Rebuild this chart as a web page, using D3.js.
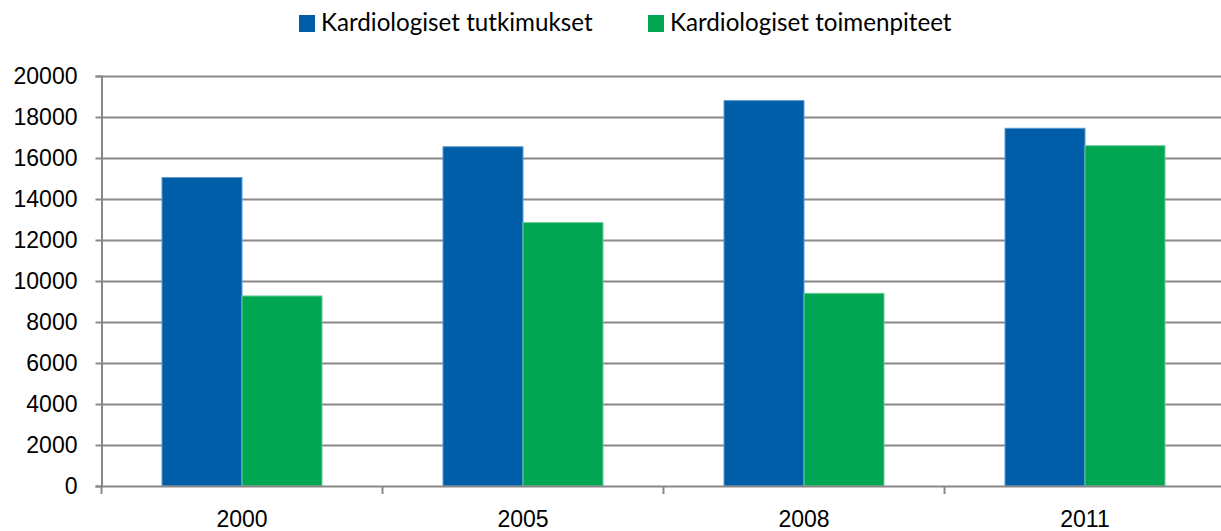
<!DOCTYPE html>
<html>
<head>
<meta charset="utf-8">
<script src="https://cdn.jsdelivr.net/npm/d3@7"></script>
<style>
  html, body { margin: 0; padding: 0; background: #fff; }
  svg { display: block; font-family: Lato, "Open Sans", sans-serif; }
</style>
</head>
<body>
<svg id="chart" width="1221" height="531"></svg>
<script>
// Chart data
const years = ["2000", "2005", "2008", "2011"]
const seriesNames = ["Kardiologiset tutkimukset", "Kardiologiset toimenpiteet"]
const tutkimukset = [15050, 16550, 18800, 17450]
const toimenpiteet = [9270, 12850, 9400, 16600]
const yTicks = [0, 2000, 4000, 6000, 8000, 10000, 12000, 14000, 16000, 18000, 20000]
const colors = ["#005EA8", "#00A651"]
const strokes = ["#5E9AD0", "#6CCB98"]

const svg = d3.select("#chart")
const plotLeft = 101.5, plotRight = 1225.5, plotTop = 76, plotBottom = 486

const x = d3.scaleBand().domain(years).range([plotLeft, plotRight])
const gap = 60.5
const x1 = d3.scaleBand().domain([0, 1]).range([gap, x.bandwidth() - gap])
const y = d3.scaleLinear().domain([0, 20000]).range([plotBottom, plotTop])

// gridlines
svg.append("g")
  .selectAll("line")
  .data(yTicks.slice(1))
  .join("line")
  .attr("x1", plotLeft).attr("x2", 1221)
  .attr("y1", (d) => Math.round(y(d)) + 0.5).attr("y2", (d) => Math.round(y(d)) + 0.5)
  .attr("stroke", "#888").attr("stroke-width", 2)

// bars
const table = years.map((yr, i) => ({ yr, vals: [tutkimukset[i], toimenpiteet[i]] }))
const groups = svg.append("g").selectAll("g").data(table).join("g")
  .attr("transform", (d) => `translate(${x(d.yr)},0)`)
groups.selectAll("rect")
  .data((d) => d.vals.map((v, s) => ({ v, s })))
  .join("rect")
  .attr("x", (d) => x1(d.s))
  .attr("width", x1.bandwidth())
  .attr("y", (d) => y(d.v))
  .attr("height", (d) => plotBottom - y(d.v))
  .attr("fill", (d) => colors[d.s])
  .attr("stroke", (d) => strokes[d.s])
  .attr("stroke-width", 1)

// y axis
const yAxis = svg.append("g")
  .attr("transform", `translate(${plotLeft},0)`)
  .call(d3.axisLeft(y).tickValues(yTicks).tickSize(6).tickPadding(18).tickFormat(d3.format("d")))
yAxis.select(".domain").attr("stroke", "#888").attr("stroke-width", 2)
yAxis.selectAll(".tick line").attr("stroke", "#888").attr("stroke-width", 2)
yAxis.selectAll("text").attr("fill", "#000").style("font-size", "23px")

// x axis
const xAxis = svg.append("g")
  .attr("transform", `translate(0,${plotBottom})`)
  .call(d3.axisBottom(x).tickSize(0).tickPadding(25))
xAxis.select(".domain").attr("stroke", "#888").attr("stroke-width", 2)
xAxis.selectAll("text").attr("fill", "#000").style("font-size", "23px")
xAxis.selectAll(".sep")
  .data(years.concat(["end"]))
  .join("line")
  .attr("x1", (d, i) => plotLeft + i * x.bandwidth())
  .attr("x2", (d, i) => plotLeft + i * x.bandwidth())
  .attr("y1", 0).attr("y2", 8)
  .attr("stroke", "#888").attr("stroke-width", 2)

// legend
const legendX = [299, 648]
const legend = svg.append("g").selectAll("g").data(seriesNames).join("g")
  .attr("transform", (d, i) => `translate(${legendX[i]},15)`)
legend.append("rect").attr("width", 16).attr("height", 17).attr("fill", (d, i) => colors[i])
legend.append("text").attr("x", 22).attr("y", 16).style("font-size", "24.2px").attr("fill", "#000").text((d) => d)
</script>
</body>
</html>
